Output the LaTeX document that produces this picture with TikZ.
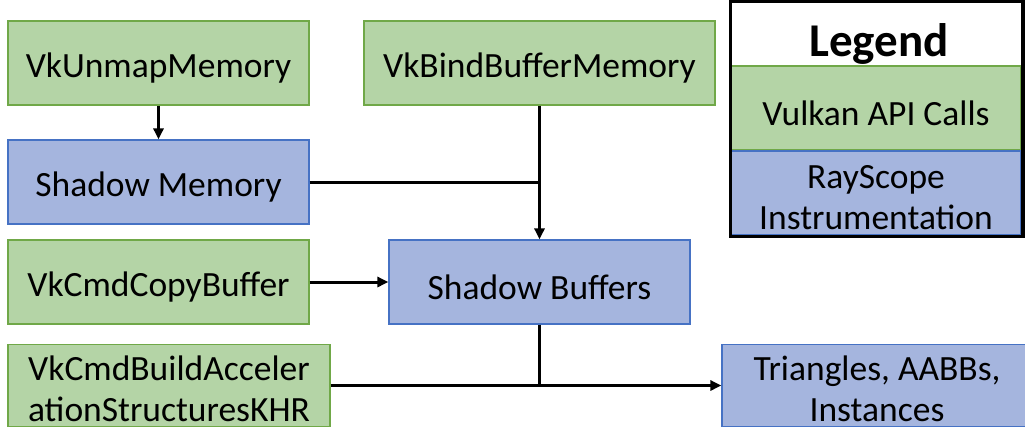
\documentclass[tikz,border=0pt]{standalone}
\usepackage{fontspec}
\setmainfont{Carlito}
\usepackage{xcolor}
\usepackage{tikz}
\usetikzlibrary{arrows.meta}

\definecolor{apifill}{RGB}{180,212,166}
\definecolor{apiline}{RGB}{112,168,72}
\definecolor{scopefill}{RGB}{165,181,222}
\definecolor{scopeline}{RGB}{70,114,196}

\tikzset{
	box/.style={draw, line width=1.2pt, inner sep=0pt, minimum height=84pt, align=center, text height=35pt, font=\fontsize{35.5}{41}\selectfont},
	twolines/.style={text height=73pt},
	apibox/.style={box, fill=apifill, draw=apiline},
	scopebox/.style={box, fill=scopefill, draw=scopeline},
	flow/.style={line width=3pt},
}

\begin{document}
\begin{tikzpicture}[x=1pt, y=-1pt, >={Triangle[length=11pt,width=10pt]}]
				\useasboundingbox (0,0) rectangle (1025,429);
				
				% Vulkan calls and instrumentation
				\node[apibox, minimum width=301pt] (unmap) at (158.5,63) {VkUnmapMemory};
				\node[apibox, minimum width=351pt] (bind) at (539.5,63) {VkBindBufferMemory};
				\node[scopebox, minimum width=301pt] (shmem) at (158.5,182) {Shadow Memory};
				\node[apibox, minimum width=301pt] (copy) at (158.5,282) {VkCmdCopyBuffer};
				\node[scopebox, minimum width=301pt] (shbuf) at (539.5,282) {Shadow Buffers};
				\node[apibox, twolines, minimum width=322pt, minimum height=82pt] (build) at (169,385.5) {VkCmdBuildAcceler\\ationStructuresKHR};
				\node[scopebox, twolines, minimum width=310pt, minimum height=82pt] (tri) at (877,385.5) {Triangles, AABBs,\\Instances};
				
				% Connectors
				\draw[flow, ->] (unmap) -- (shmem);
				\draw[flow, ->] (bind) -- (shbuf);
				\draw[flow] (shmem) -- (bind |- shmem);
				\draw[flow, ->] (copy) -- (shbuf);
				\draw[flow] (shbuf) -- (shbuf |- build);
				\draw[flow, ->] (build) -- (tri);
				
				% Legend
				\node[font=\bfseries\fontsize{47}{52}\selectfont] (legtitle) at (879,44) {Legend};
				\node[apibox, minimum width=290pt] (legapi) at (876,108) {Vulkan API Calls};
				\node[scopebox, twolines, minimum width=290pt] (legscope) at (876,193) {RayScope\\Instrumentation};
				\draw[line width=3.5pt] (730.5,1.5) rectangle (1023,236.5);
				
			\end{tikzpicture}
\end{document}
